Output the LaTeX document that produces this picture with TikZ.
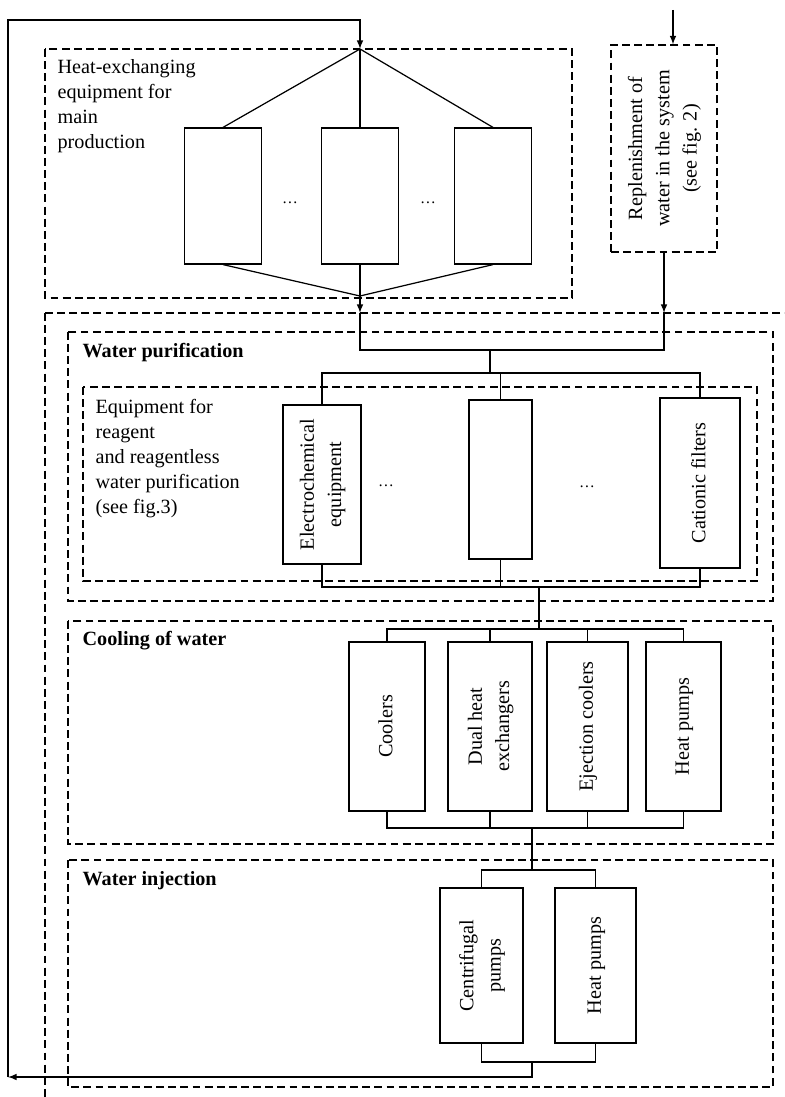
\documentclass[tikz,border=0pt]{standalone}
\usepackage{fontspec}
\setmainfont{Liberation Serif}
\usetikzlibrary{positioning,calc}

\newcommand{\vtext}[1]{\rotatebox{90}{\fontsize{11.5}{15.5}\selectfont\begin{tabular}{@{}c@{}}#1\end{tabular}}}

\begin{document}
\begin{tikzpicture}
  [x=0.02cm,y=-0.02cm,>=latex,line width=0.7pt,
   unit/.style={draw,inner sep=0pt,align=center},
   zone/.style={draw,dash pattern=on 4.5pt off 2.4pt},
   title/.style={anchor=north west,align=left,inner sep=0pt,font=\fontsize{11.5}{14.2}\selectfont},
   dots/.style={inner sep=0pt,font=\small}]

  \useasboundingbox (0,0) rectangle (784,1097);
  \clip (0,0) rectangle (784,1097);

  % heat-exchanging equipment of the main production
  \draw[zone] (45,49) rectangle (572,298);
  \node[title] (hxt) at (57,59) {Heat-exchanging\\equipment for\\main\\production};
  \coordinate (hxin) at (360,49);
  \coordinate (hxout) at (360,296);
  \node[unit,minimum width=1.54cm,minimum height=2.72cm] (hx1) at (223,196) {};
  \node[unit,minimum width=1.54cm,minimum height=2.72cm] (hx2) at (360,196) {};
  \node[unit,minimum width=1.54cm,minimum height=2.72cm] (hx3) at (493,196) {};
  \node[dots] (hxd1) at (290,203) {\dots};
  \node[dots] (hxd2) at (428,203) {\dots};
  \foreach \b in {hx1,hx2,hx3} {
    \draw (hxin) -- (\b.north);
    \draw (\b.south) -- (hxout);
  }

  % replenishment
  \node[zone,minimum width=2.12cm,minimum height=4.14cm,inner sep=0pt] (rp) at (664,148.5)
    {\vtext{Replenishment of\\water in the system\\(see fig. 2)}};
  \coordinate (rpin) at (673,10);
  \draw[->] (rpin) -- (rpin |- rp.north);

  % whole circulating system
  \draw[zone] (45,313) rectangle (820,1130);
  \coordinate (hxarr) at (360,313);
  \coordinate (rparr) at (664,313);
  \draw[->] (hxout) -- (hxarr);
  \draw[->] (rp.south) -- (rparr);

  % water purification
  \draw[zone] (68,332) rectangle (773,601);
  \node[title,font=\fontsize{11.5}{14.2}\selectfont\bfseries] (pwt) at (82,343) {Water purification};
  \draw[zone] (83,387) rectangle (757,581);
  \node[title] (eqt) at (95,399) {Equipment for\\reagent\\and reagentless\\water purification\\(see fig.3)};
  \coordinate (pmix) at (490,350);
  \coordinate (ptop) at (490,373);
  \coordinate (pbot) at (539,587);
  \draw (hxarr) |- (pmix) -| (rparr);
  \draw (pmix) -- (ptop);
  \node[unit,minimum width=1.56cm,minimum height=3.18cm] (ec) at (322,484.5) {\vtext{Electrochemical\\equipment}};
  \node[unit,minimum width=1.26cm,minimum height=3.18cm] (pm) at (500.5,479.5) {};
  \node[unit,minimum width=1.6cm,minimum height=3.4cm] (cf) at (700,483) {\vtext{Cationic filters}};
  \node[dots] (pwd1) at (386,486) {\dots};
  \node[dots] (pwd2) at (587,487) {\dots};
  \draw (ec.north) |- (ptop) -| (cf.north);
  \draw (pm.north) -- (pm.north |- ptop);
  \draw (ec.south) |- (pbot) -| (cf.south);
  \draw (pm.south) -- (pm.south |- pbot);

  % cooling of water
  \draw[zone] (68,621) rectangle (773,844);
  \node[title,font=\fontsize{11.5}{14.2}\selectfont\bfseries] (cwt) at (82,631) {Cooling of water};
  \coordinate (ctop) at (539,629);
  \coordinate (cbot) at (532,828);
  \draw[line width=1.5pt] (pbot) -- (ctop);
  \node[unit,minimum width=1.52cm,minimum height=3.38cm] (co) at (387,726.5) {\vtext{Coolers}};
  \node[unit,minimum width=1.68cm,minimum height=3.38cm] (dh) at (490,726.5) {\vtext{Dual heat\\exchangers}};
  \node[unit,minimum width=1.62cm,minimum height=3.38cm] (ej) at (587.5,726.5) {\vtext{Ejection coolers}};
  \node[unit,minimum width=1.5cm,minimum height=3.38cm] (hp) at (683.5,726.5) {\vtext{Heat pumps}};
  \draw (co.north) |- (ctop) -| (hp.north);
  \draw (co.south) |- (cbot) -| (hp.south);
  \foreach \b in {dh,ej} {
    \draw (\b.north) -- (\b.north |- ctop);
    \draw (\b.south) -- (\b.south |- cbot);
  }

  % water injection
  \draw[zone] (68,860) rectangle (773,1087);
  \node[title,font=\fontsize{11.5}{14.2}\selectfont\bfseries] (wit) at (82,871) {Water injection};
  \coordinate (itop) at (532,870);
  \coordinate (ibot) at (532,1062);
  \draw (cbot) -- (itop);
  \node[unit,minimum width=1.66cm,minimum height=3.1cm] (cp) at (481.5,965.5) {\vtext{Centrifugal\\pumps}};
  \node[unit,minimum width=1.62cm,minimum height=3.1cm] (ip) at (595.5,965.5) {\vtext{Heat pumps}};
  \draw (cp.north) |- (itop) -| (ip.north);
  \draw (cp.south) |- (ibot) -| (ip.south);

  % return line
  \coordinate (fbbot) at (8,1077);
  \coordinate (fbtop) at (8,20);
  \draw[->] (ibot) |- (fbbot);
  \draw[->] (fbbot) -- (fbtop) -| (hxin);

\end{tikzpicture}
\end{document}
